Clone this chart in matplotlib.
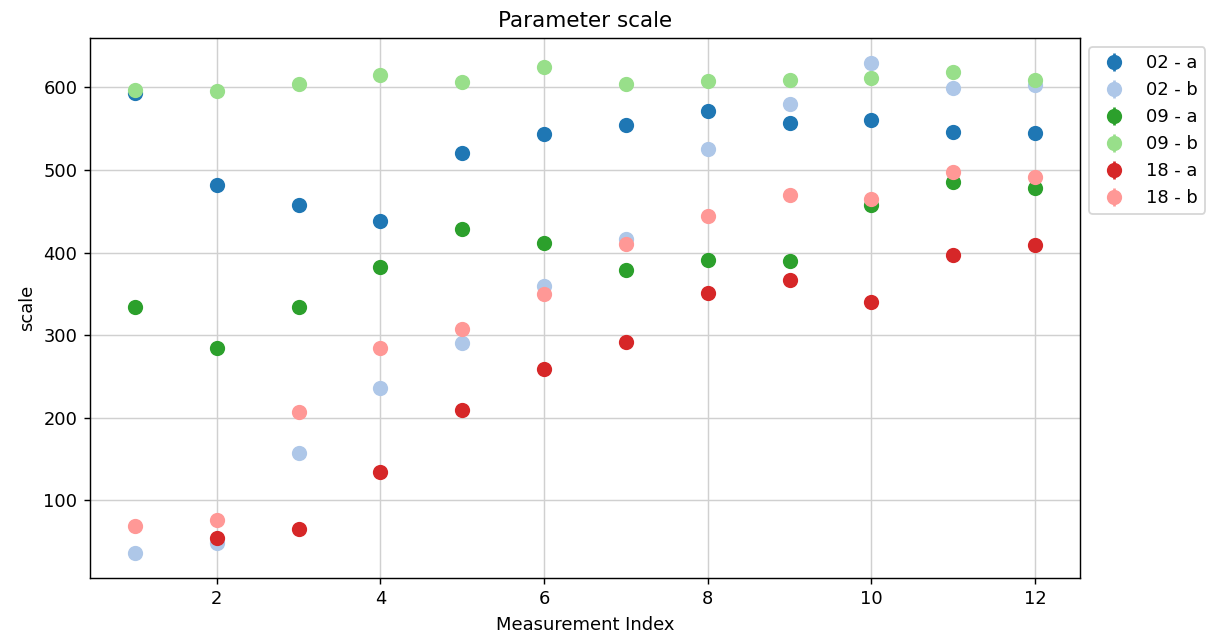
import numpy as np
import matplotlib
matplotlib.use("Agg")
import matplotlib.pyplot as plt

# Measurement indices
x = np.arange(1, 13)

# Values
s02_a = [593, 482, 458, 438, 521, 543, 554, 571, 557, 560, 546, 545]
s02_b = [36, 49, 158, 236, 290, 359, 416, 525, 580, 630, 599, 603]
s09_a = [334, 284, 334, 383, 428, 412, 379, 391, 390, 457, 485, 478]
s09_b = [597, 595, 604, 615, 606, 624, 604, 608, 609, 611, 618, 609]
s18_a = [None, 55, 65, 134, 209, 259, 292, 351, 367, 340, 397, 409]
s18_b = [69, 77, 207, 285, 308, 350, 410, 444, 470, 465, 497, 491]

labels = ["02 - a", "02 - b", "09 - a", "09 - b", "18 - a", "18 - b"]
colors = ["#1f77b4", "#aec7e8", "#2ca02c", "#98df8a", "#d62728", "#ff9896"]
series = [s02_a, s02_b, s09_a, s09_b, s18_a, s18_b]

dpi = 129
fig = plt.figure(figsize=(1217 / dpi, 633 / dpi), dpi=dpi)
ax = fig.add_axes([0.074, 0.087, 0.8134, 0.853])

for vals, lab, col in zip(series, labels, colors):
    y = np.array([np.nan if v is None else v for v in vals], dtype=float)
    ax.errorbar(x, y, yerr=0, fmt='o', color=col, label=lab, markersize=7.5)

ax.set_title("Parameter scale")
ax.set_xlabel("Measurement Index")
ax.set_ylabel("scale")
ax.grid(True, color='#d0d0d0')
ax.set_axisbelow(True)
ax.legend(loc='upper left', bbox_to_anchor=(1.0, 1.0))

fig.savefig("out.png", dpi=dpi)
